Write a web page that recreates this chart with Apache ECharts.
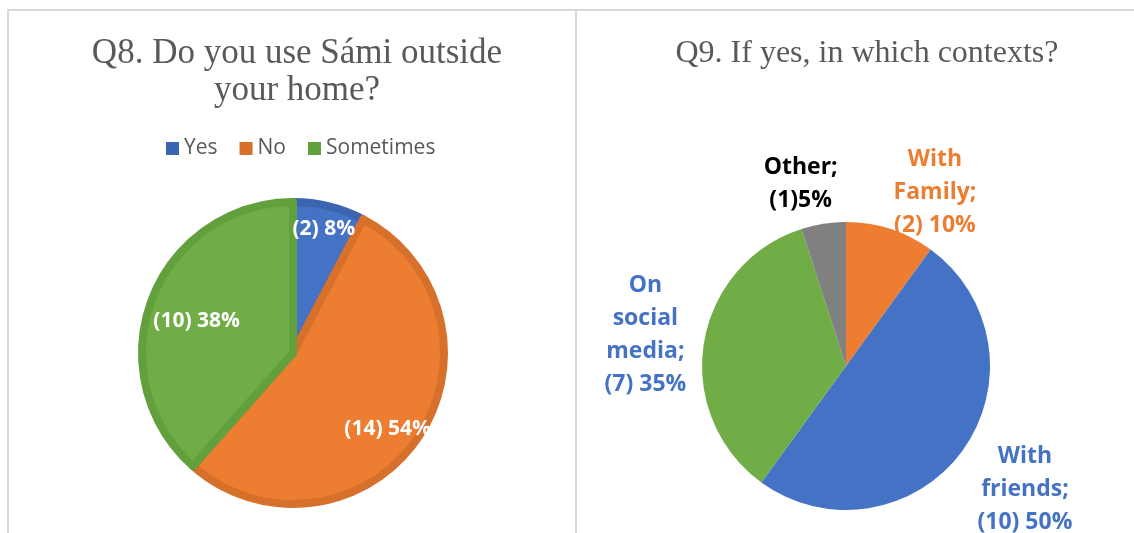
<!DOCTYPE html>
<html>
<head>
<meta charset="utf-8">
<script src="https://cdn.jsdelivr.net/npm/echarts@6/dist/echarts.min.js"></script>
<style>
  html, body { margin: 0; padding: 0; background: #fff; width: 1134px; height: 533px; overflow: hidden; }
  #q8 { position: absolute; left: 7px; top: 9px; width: 566px; height: 540px; border: 2px solid #d9d9d9; }
  #q9 { position: absolute; left: 577px; top: 9px; width: 557px; height: 540px; border-top: 2px solid #d9d9d9; }
</style>
</head>
<body>
<div id="q8"></div>
<div id="q9"></div>
<script>
// Q8 data
const q8Names = ["Yes", "No", "Sometimes"];
const q8Counts = [2, 14, 10];
// Q9 data
const q9Names = ["With Family", "With friends", "On social media", "Other"];
const q9Counts = [2, 10, 7, 1];
const q9Gap = [" ", " ", " ", ""]; // "(1)5%" has no space in the original

const q8Fill = ["#4472C4", "#ED7D31", "#70AD47"];
const q8Edge = ["#3B65B0", "#D6702B", "#62A03D"];
const q9Fill = ["#ED7D31", "#4472C4", "#70AD47", "#808080"];
const q9Text = ["#ED7D31", "#4472C4", "#4472C4", "#000000"];

// label nudges (px) from the default pie label spot
const q8Shift = [[12, -48], [30, 31], [-23, -4]];
const q9Shift = [[29, 11], [22, 9], [-9, -1], [-15, 10]];

const titleStyle = {
  fontFamily: "Liberation Serif",
  fontWeight: "normal",
  color: "#595959",
};

const q8Chart = echarts.init(document.getElementById("q8"));
q8Chart.setOption({
  animation: false,
  title: {
    text: "Q8. Do you use Sámi outside\nyour home?",
    left: 283,
    textAlign: "center",
    top: 19,
    textStyle: { ...titleStyle, fontSize: 35, lineHeight: 37 },
  },
  legend: {
    top: 122,
    left: 152,
    icon: "rect",
    itemWidth: 13,
    itemHeight: 13,
    itemGap: 22,
    data: q8Names.map((n, i) => ({
      name: n,
      itemStyle: { color: q8Edge[i], borderWidth: 0 },
    })),
    textStyle: { fontFamily: "Open Sans", fontSize: 21, color: "#595959" },
  },
  series: [
    {
      type: "pie",
      center: [284, 342],
      radius: 151,
      startAngle: 90,
      percentPrecision: 0,
      data: q8Names.map((n, i) => ({
        name: n,
        value: q8Counts[i],
        itemStyle: { color: q8Fill[i], borderColor: q8Edge[i], borderWidth: 8 },
      })),
      label: {
        position: "inside",
        formatter: (p) => `(${p.value}) ${p.percent}%`,
        color: "#fff",
        fontFamily: "Open Sans",
        fontWeight: "bold",
        fontSize: 21,
      },
      labelLine: { show: false },
      labelLayout: (p) => ({ dx: q8Shift[p.dataIndex][0], dy: q8Shift[p.dataIndex][1] }),
      emphasis: { disabled: true },
    },
  ],
});

const q9Chart = echarts.init(document.getElementById("q9"));
q9Chart.setOption({
  animation: false,
  title: {
    text: "Q9. If yes, in which contexts?",
    left: 285,
    textAlign: "center",
    top: 22,
    textStyle: { ...titleStyle, fontSize: 32 },
  },
  series: [
    {
      type: "pie",
      center: [269, 355],
      radius: 144,
      startAngle: 90,
      percentPrecision: 0,
      avoidLabelOverlap: false,
      data: q9Names.map((n, i) => ({
        name: n,
        value: q9Counts[i],
        itemStyle: { color: q9Fill[i] },
        label: { color: q9Text[i] },
      })),
      label: {
        position: "outside",
        formatter: (p) =>
          p.name.split(" ").join("\n") + ";\n(" + p.value + ")" + q9Gap[p.dataIndex] + p.percent + "%",
        fontFamily: "Open Sans",
        fontWeight: "bold",
        fontSize: 23,
        lineHeight: 33,
        width: 120,
        align: "center",
        distanceToLabelLine: 0,
      },
      labelLine: { show: false, length: 50, length2: 0 },
      labelLayout: (p) => ({
        align: "center",
        dx: q9Shift[p.dataIndex][0],
        dy: q9Shift[p.dataIndex][1],
      }),
      emphasis: { disabled: true },
    },
  ],
});

window.addEventListener("resize", () => {
  q8Chart.resize();
  q9Chart.resize();
});
</script>
</body>
</html>
